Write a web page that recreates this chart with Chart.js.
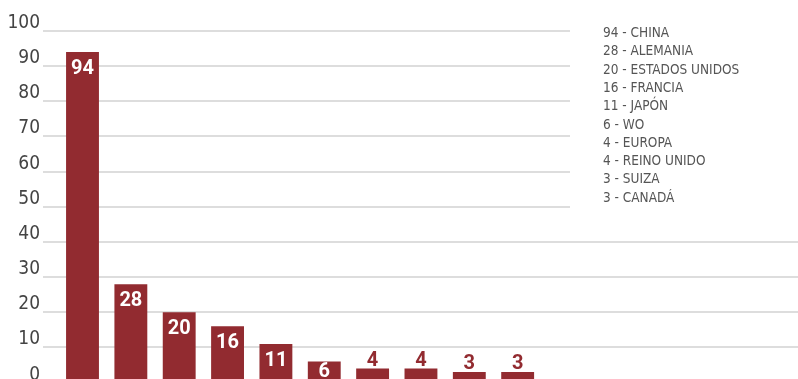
<!DOCTYPE html>
<html>
<head>
<meta charset="utf-8">
<script src="https://cdn.jsdelivr.net/npm/chart.js@4/dist/chart.umd.min.js"></script>
<style>
  html, body { margin: 0; padding: 0; background: #fff; overflow: hidden; }
  canvas { display: block; }
</style>
</head>
<body>
<canvas id="countriesChart" width="798" height="397"></canvas>
<script>
const countries = ['CHINA', 'ALEMANIA', 'ESTADOS UNIDOS', 'FRANCIA', 'JAPÓN', 'WO', 'EUROPA', 'REINO UNIDO', 'SUIZA', 'CANADÁ']
const counts = [94, 28, 20, 16, 11, 6, 4, 4, 3, 3]
const yTicks = [0, 10, 20, 30, 40, 50, 60, 70, 80, 90, 100]

const barColor = '#922b30'
const narrow = '"DejaVu Sans Condensed", "Roboto", sans-serif'

// white box on the right with the "value - country" list
const listPlugin = {
    id: 'countryList',
    beforeDatasetsDraw(chart) {
        const ctx = chart.ctx
        ctx.save()
        ctx.fillStyle = '#fff'
        ctx.fillRect(570, 0, chart.width - 570, 222)
        ctx.fillStyle = '#555'
        ctx.font = '13.5px ' + narrow
        ctx.textBaseline = 'middle'
        ctx.textAlign = 'left'
        countries.forEach((c, i) => {
            ctx.fillText(counts[i] + ' - ' + c, 603, 33.5 + i * 18.3)
        })
        ctx.restore()
    }
}

// numbers on the bars: white inside, red on top for the small ones
const valuePlugin = {
    id: 'barValues',
    afterDatasetsDraw(chart) {
        const ctx = chart.ctx
        const meta = chart.getDatasetMeta(0)
        ctx.save()
        ctx.font = 'bold 20px Roboto, sans-serif'
        ctx.textAlign = 'center'
        meta.data.forEach((bar, i) => {
            const v = counts[i]
            if (v >= 5) {
                const h = bar.base - bar.y
                ctx.fillStyle = '#fff'
                ctx.textBaseline = 'middle'
                ctx.fillText(v, bar.x, bar.y + Math.min(17, h / 2))
            } else {
                ctx.fillStyle = barColor
                ctx.textBaseline = 'alphabetic'
                ctx.fillText(v, bar.x, bar.y - 3)
            }
        })
        ctx.restore()
    }
}

const data = {
    datasets: [{
        data: counts.map((v, i) => ({ x: i, y: v })),
        backgroundColor: barColor,
        borderWidth: 0,
        barPercentage: 0.68,
        categoryPercentage: 1
    }]
}

const options = {
    responsive: false,
    animation: false,
    layout: { padding: { top: 31, bottom: 0, left: 0, right: 0 } },
    plugins: {
        legend: { display: false },
        tooltip: { enabled: false }
    },
    scales: {
        x: {
            type: 'linear',
            display: false,
            offset: false,
            min: -0.817,
            max: 14.798
        },
        y: {
            min: 0,
            max: 100,
            afterFit: scale => { scale.width = 43 },
            afterBuildTicks: scale => { scale.ticks = yTicks.map(v => ({ value: v })) },
            border: { display: false },
            grid: { color: '#dddddd', lineWidth: 2, drawTicks: false },
            ticks: {
                color: '#444',
                padding: 3,
                labelOffset: -8,
                font: { family: narrow, size: 19 }
            }
        }
    }
}

new Chart('countriesChart', { type: 'bar', data, options, plugins: [listPlugin, valuePlugin] })
</script>
</body>
</html>
